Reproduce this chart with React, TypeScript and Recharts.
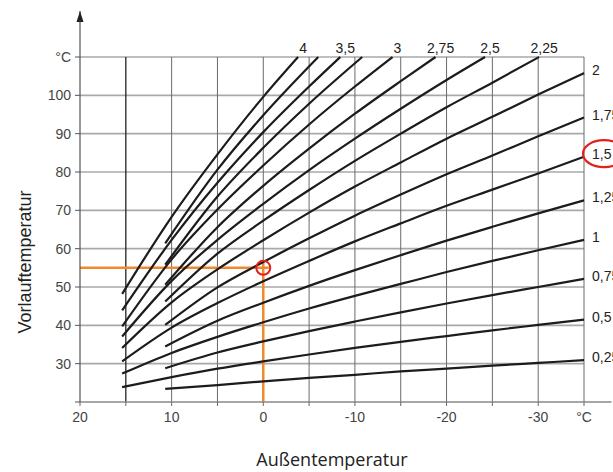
import React from 'react';
import { LineChart, Line, XAxis, YAxis, ReferenceLine, ReferenceDot, LabelList } from 'recharts';

// Außentemperatur (°C) / Vorlauftemperatur (°C) pairs, per heating-curve slope
const curve025 = [[10.7, 23.4], [5, 24.4], [0, 25.4], [-5, 26.3], [-10, 27.1], [-15, 28.0], [-20, 28.7], [-25, 29.5], [-30, 30.2], [-35, 30.9]];
const curve05 = [[15.4, 23.9], [10, 26.5], [5, 28.7], [0, 30.6], [-5, 32.4], [-10, 34.1], [-15, 35.7], [-20, 37.2], [-25, 38.7], [-30, 40.1], [-35, 41.5]];
const curve075 = [[10.7, 28.8], [5, 32.9], [0, 35.8], [-5, 38.5], [-10, 41.0], [-15, 43.4], [-20, 45.7], [-25, 47.9], [-30, 50.0], [-35, 52.1]];
const curve1 = [[15.4, 27.4], [10, 32.8], [5, 37.0], [0, 40.8], [-5, 44.4], [-10, 47.7], [-15, 50.8], [-20, 53.9], [-25, 56.8], [-30, 59.6], [-35, 62.3]];
const curve125 = [[10.7, 34.5], [5, 41.2], [0, 45.9], [-5, 50.3], [-10, 54.4], [-15, 58.3], [-20, 62.1], [-25, 65.7], [-30, 69.2], [-35, 72.6]];
const curve15 = [[15.4, 30.6], [10, 39.4], [5, 45.8], [0, 51.5], [-5, 56.8], [-10, 61.9], [-15, 66.6], [-20, 71.2], [-25, 75.4], [-30, 79.6], [-35, 84.0]];
const curve175 = [[10.7, 40.1], [5, 49.9], [0, 56.5], [-5, 62.7], [-10, 68.6], [-15, 74.1], [-20, 79.4], [-25, 84.3], [-30, 89.3], [-35, 94.2]];
const curve2 = [[15.4, 34.1], [10, 46.0], [5, 54.6], [0, 62.2], [-5, 69.4], [-10, 76.2], [-15, 82.5], [-20, 88.7], [-25, 94.4], [-30, 100.2], [-35, 105.8]];
const curve225 = [[10.7, 46.2], [5, 58.7], [0, 67.3], [-5, 75.3], [-10, 82.9], [-15, 90.0], [-20, 96.9], [-25, 103.3], [-30.1, 110]];
const curve25 = [[15.4, 37.1], [10, 51.6], [5, 62.3], [0, 71.7], [-5, 80.5], [-10, 88.7], [-15, 96.5], [-20, 104.0], [-24.2, 110]];
const curve275 = [[10.7, 50.6], [5, 65.6], [0, 76.4], [-5, 86.1], [-10, 95.2], [-15, 103.7], [-18.8, 110]];
const curve3 = [[15.4, 39.7], [10, 57.2], [5, 70.2], [0, 81.7], [-5, 92.4], [-10, 102.3], [-14.1, 110]];
const curve325 = [[10.7, 55.8], [5, 73.6], [0, 86.3], [-5, 97.8], [-10.8, 110]];
const curve35 = [[15.4, 43.9], [10, 62.3], [5, 77.2], [0, 90.4], [-5, 102.3], [-8.4, 110]];
const curve375 = [[10.7, 61.4], [5, 80.6], [0, 94.8], [-6.0, 110]];
const curve4 = [[15.4, 48.2], [10, 68.3], [5, 84.6], [0, 99.6], [-3.8, 110]];

const curves = [curve025, curve05, curve075, curve1, curve125, curve15, curve175, curve2, curve225, curve25, curve275, curve3, curve325, curve35, curve375, curve4];
const curveLabels = ['0,25', '0,5', '0,75', '1', '1,25', '1,5', '1,75', '2', '2,25', '2,5', '2,75', '3', '', '3,5', '', '4'];

const xTicks = [20, 15, 10, 5, 0, -5, -10, -15, -20, -25, -30, -35];
const yTicks = [20, 30, 40, 50, 60, 70, 80, 90, 100, 110];
const gridX = [15, 10, 5, 0, -5, -10, -15, -20, -25, -30, -35];
const gridY = [30, 40, 50, 60, 70, 80, 90, 100, 110];

const markerPoint = [0, 55]; // Außentemperatur 0 °C -> Vorlauf 55 °C
const highlightedCurve = curve15;

const X_MIN = 20, X_MAX = -35, Y_MIN = 20, Y_MAX = 110;

const tickStyle = { fill: '#444', fontSize: 14, fontFamily: 'Liberation Sans, Arial, sans-serif' };

export default function App() {
  const lastHL = highlightedCurve[highlightedCurve.length - 1];
  return (
    <div style={{ position: 'absolute', left: 0, top: 0, background: '#fff' }}>
      <LineChart width={613} height={472} margin={{ top: 11, right: 1.5, left: 0, bottom: 0 }}>
        <XAxis
          type="number"
          dataKey="t"
          domain={[-38, 20]}
          reversed
          ticks={xTicks}
          interval={0}
          allowDataOverflow
          tickFormatter={(v: number) => (v === -35 ? '°C' : v % 10 === 0 ? String(v) : '')}
          height={70}
          tickSize={4}
          tickMargin={6}
          tick={tickStyle}
          axisLine={{ stroke: '#8a8a8a', strokeWidth: 1.6 }}
          tickLine={{ stroke: '#666' }}
          label={{
            value: 'Außentemperatur',
            content: (p: any) => (
              <text x={p.viewBox.x + 252} y={p.viewBox.y + 64} textAnchor="middle" fontSize={18} fontFamily="Open Sans, sans-serif" fill="#222">
                Außentemperatur
              </text>
            ),
          }}
        />
        <YAxis
          type="number"
          domain={[20, 122]}
          ticks={yTicks}
          interval={0}
          allowDataOverflow
          width={80}
          tickFormatter={(v: number) => (v === 20 ? '' : v === 110 ? '°C' : String(v))}
          tickSize={5}
          tickMargin={4}
          tick={tickStyle}
          axisLine={{ stroke: '#555', strokeWidth: 1.2 }}
          tickLine={{ stroke: '#555' }}
          label={{
            value: 'Vorlauftemperatur',
            content: (p: any) => {
              const cx = p.viewBox.x + 25;
              const cy = p.viewBox.y + 251;
              return (
                <text x={cx} y={cy} transform={`rotate(-90 ${cx} ${cy})`} textAnchor="middle" dominantBaseline="central" fontSize={18} fontFamily="Liberation Sans, Arial, sans-serif" fill="#222">
                  Vorlauftemperatur
                </text>
              );
            },
          }}
        />
        {gridY.map((y) => (
          <ReferenceLine key={'gy' + y} segment={[{ x: X_MIN, y }, { x: X_MAX, y }]} stroke="#a9a9a9" strokeWidth={1.6} ifOverflow="visible" />
        ))}
        {gridX.map((x) => (
          <ReferenceLine key={'gx' + x} segment={[{ x, y: Y_MIN }, { x, y: Y_MAX }]} stroke={x === 15 ? '#222' : '#6a6a6a'} strokeWidth={x === 15 ? 1.3 : 1} ifOverflow="visible" />
        ))}
        <ReferenceLine segment={[{ x: X_MIN, y: markerPoint[1] }, { x: markerPoint[0] - 0.6, y: markerPoint[1] }]} stroke="#f08a2c" strokeWidth={2.5} ifOverflow="visible" />
        <ReferenceLine segment={[{ x: markerPoint[0], y: markerPoint[1] + 1.4 }, { x: markerPoint[0], y: Y_MIN }]} stroke="#f08a2c" strokeWidth={2.5} ifOverflow="visible" />
        {curves.map((c, i) => {
          const data = c.map(([t, v]) => ({ t, v }));
          const label = curveLabels[i];
          const last = data.length - 1;
          const topEnd = data[last].v >= Y_MAX;
          return (
            <Line
              key={'c' + i}
              data={data}
              dataKey="v"
              type="monotone"
              stroke="#1c1c1c"
              strokeWidth={2.2}
              dot={false}
              activeDot={false}
              isAnimationActive={false}
            >
              <LabelList
                dataKey="v"
                content={(p: any) =>
                  p.index === last && label ? (
                    topEnd ? (
                      <text x={p.x + 5} y={p.y - 4} textAnchor="middle" fontSize={14} fontFamily="Liberation Sans, Arial, sans-serif" fill="#222">
                        {label}
                      </text>
                    ) : (
                      <text x={p.x + 8} y={p.y + 2} textAnchor="start" fontSize={14} fontFamily="Liberation Sans, Arial, sans-serif" fill="#222">
                        {label}
                      </text>
                    )
                  ) : null
                }
              />
            </Line>
          );
        })}
        <ReferenceDot x={markerPoint[0]} y={markerPoint[1]} r={7} fill="none" stroke="#e3211c" strokeWidth={2} ifOverflow="visible" />
        <ReferenceDot
          x={lastHL[0]}
          y={lastHL[1]}
          ifOverflow="visible"
          shape={(p: any) => <ellipse cx={p.cx + 20} cy={p.cy - 3} rx={21} ry={13.5} fill="none" stroke="#e3211c" strokeWidth={2.2} />}
        />
        <ReferenceDot
          x={20}
          y={122}
          ifOverflow="visible"
          shape={(p: any) => <path d={`M${p.cx},${p.cy} L${p.cx - 3.5},${p.cy + 11} L${p.cx + 3.5},${p.cy + 11} Z`} fill="#222" />}
        />
      </LineChart>
    </div>
  );
}
